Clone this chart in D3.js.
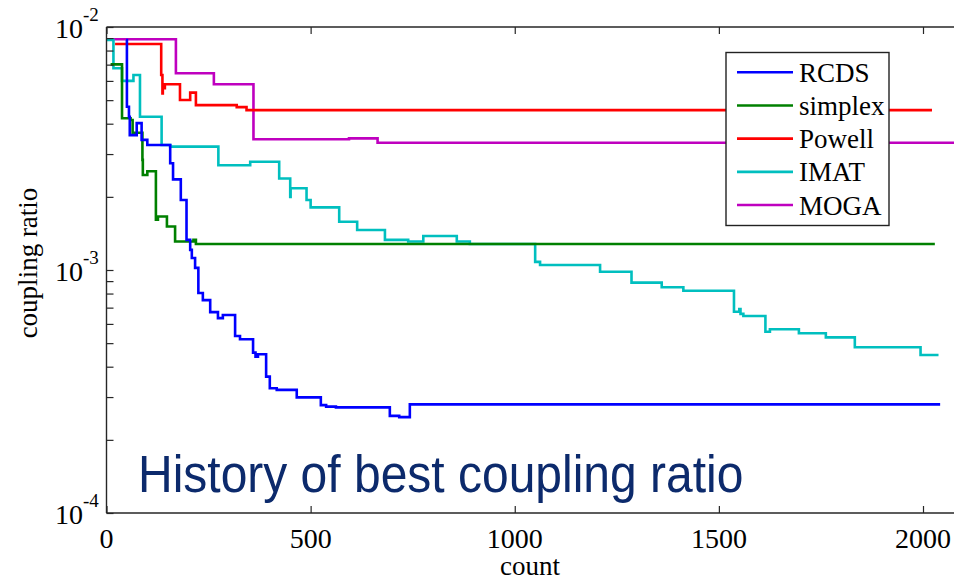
<!DOCTYPE html>
<html>
<head>
<meta charset="utf-8">
<script src="https://cdn.jsdelivr.net/npm/d3@7/dist/d3.min.js"></script>
<style>
  html, body { margin: 0; padding: 0; background: #fff; }
  svg { display: block; }
</style>
</head>
<body>
<svg id="chart" width="954" height="582"></svg>
<script>
// ---------- data ----------
const seriesNames = ["RCDS", "simplex", "Powell", "IMAT", "MOGA"];
const seriesColors = ["#0000ff", "#008000", "#ff0000", "#00bfbf", "#bf00bf"];

const rcdsCount = [48, 50, 55, 57, 74, 86, 100, 156, 163, 182, 196, 205, 209, 217, 225, 236, 254, 273, 285, 315, 327, 359, 365, 371, 391, 400, 417, 466, 525, 538, 562, 694, 717, 743, 2042];
const rcdsValue = [8.84e-3, 4.7e-3, 4.27e-3, 3.59e-3, 4.02e-3, 3.43e-3, 3.27e-3, 2.75e-3, 2.36e-3, 1.94e-3, 1.33e-3, 1.21e-3, 1.12e-3, 1.02e-3, 8.04e-4, 7.52e-4, 6.71e-4, 6.34e-4, 6.53e-4, 5.35e-4, 5.19e-4, 4.57e-4, 4.40e-4, 4.50e-4, 3.64e-4, 3.26e-4, 3.21e-4, 2.99e-4, 2.78e-4, 2.74e-4, 2.72e-4, 2.51e-4, 2.48e-4, 2.80e-4, 2.80e-4];

const simplexCount = [10, 38, 59, 64, 88, 89, 100, 121, 126, 148, 168, 213, 219, 2029];
const simplexValue = [7.02e-3, 4.21e-3, 4.14e-3, 3.67e-3, 2.84e-3, 2.46e-3, 2.55e-3, 1.61e-3, 1.66e-3, 1.51e-3, 1.31e-3, 1.33e-3, 1.28e-3, 1.28e-3];

const powellCount = [21, 134, 137, 138, 143, 180, 205, 219, 319, 343, 2022];
const powellValue = [8.51e-3, 6.35e-3, 5.33e-3, 5.6e-3, 5.81e-3, 5.01e-3, 5.37e-3, 4.77e-3, 4.68e-3, 4.55e-3, 4.55e-3];

const imatCount = [0, 17, 38, 66, 82, 135, 156, 274, 352, 423, 450, 451, 490, 500, 570, 614, 682, 739, 776, 858, 890, 1050, 1062, 1209, 1286, 1360, 1413, 1537, 1550, 1553, 1560, 1614, 1625, 1696, 1762, 1833, 1994, 2038];
const imatValue = [8.84e-3, 6.76e-3, 6.0e-3, 6.35e-3, 4.27e-3, 3.27e-3, 3.22e-3, 2.70e-3, 2.79e-3, 2.38e-3, 2.0e-3, 2.17e-3, 1.94e-3, 1.81e-3, 1.58e-3, 1.46e-3, 1.33e-3, 1.31e-3, 1.38e-3, 1.31e-3, 1.28e-3, 1.08e-3, 1.048e-3, 9.84e-4, 8.87e-4, 8.49e-4, 8.22e-4, 6.73e-4, 6.9e-4, 6.6e-4, 6.47e-4, 5.57e-4, 5.70e-4, 5.49e-4, 5.28e-4, 4.81e-4, 4.47e-4, 4.47e-4];

const mogaCount = [0, 170, 263, 360, 594, 664, 2100];
const mogaValue = [8.9e-3, 6.45e-3, 5.81e-3, 3.45e-3, 3.48e-3, 3.34e-3, 3.34e-3];

const xTicks = [0, 500, 1000, 1500, 2000];
const yTicks = [1e-4, 1e-3, 1e-2];
const yTickExps = ["-4", "-3", "-2"];
const xDomain = [0, 2100];
const yDomain = [1e-4, 1e-2];
const xLabel = "count";
const yLabel = "coupling ratio";
const annotation = "History of best coupling ratio";

// ---------- layout ----------
(function () {
const svg = d3.select("#chart");
const mLeft = 106.5, mTop = 27, mBottom = 513;
const pxPerUnit = (923 - mLeft) / 2000;
const mRight = mLeft + (xDomain[1] - xDomain[0]) * pxPerUnit;

const x = d3.scaleLinear().domain(xDomain).range([mLeft, mRight]);
const y = d3.scaleLog().domain(yDomain).range([mBottom, mTop]);

const serif = "'Liberation Serif', 'Times New Roman', serif";

const allSeries = [
  {count: rcdsCount, value: rcdsValue},
  {count: simplexCount, value: simplexValue},
  {count: powellCount, value: powellValue},
  {count: imatCount, value: imatValue},
  {count: mogaCount, value: mogaValue}
];

const line = d3.line()
  .x(d => x(d[0]))
  .y(d => y(d[1]))
  .curve(d3.curveStepAfter);

const drawOrder = [4, 2, 3, 1, 0];
drawOrder.forEach(i => {
  const s = allSeries[i];
  const pts = s.count.map((c, k) => [c, s.value[k]]);
  svg.append("path")
    .attr("d", line(pts))
    .attr("fill", "none")
    .attr("stroke", seriesColors[i])
    .attr("stroke-width", 2.6)
    .attr("stroke-linejoin", "miter");
});

// axes frame
const axisColor = "#262626";
const frame = [[mLeft, mTop, mLeft, mBottom], [mLeft, mBottom, mRight, mBottom], [mLeft, mTop, mRight, mTop], [mRight, mTop, mRight, mBottom]];
frame.forEach(f => svg.append("line").attr("x1", f[0]).attr("y1", f[1]).attr("x2", f[2]).attr("y2", f[3])
  .attr("stroke", axisColor).attr("stroke-width", 1.4));

// x ticks (inward, bottom and top)
const gxb = svg.append("g").attr("transform", `translate(0,${mBottom})`)
  .call(d3.axisBottom(x).tickValues(xTicks).tickSizeInner(-7).tickSizeOuter(0).tickFormat(""));
gxb.select(".domain").remove();
gxb.selectAll(".tick line").attr("stroke", axisColor).attr("stroke-width", 1.2);
const gxt = svg.append("g").attr("transform", `translate(0,${mTop})`)
  .call(d3.axisTop(x).tickValues(xTicks).tickSizeInner(-7).tickSizeOuter(0).tickFormat(""));
gxt.select(".domain").remove();
gxt.selectAll(".tick line").attr("stroke", axisColor).attr("stroke-width", 1.2);

// x tick labels
svg.append("g").selectAll("text").data(xTicks).join("text")
  .attr("x", d => x(d)).attr("y", 548)
  .attr("text-anchor", "middle")
  .attr("font-family", serif).attr("font-size", 28).attr("fill", "#000")
  .text(d => d);

// y ticks: minor + major inward
const yAllTicks = y.ticks();
const gy = svg.append("g").attr("transform", `translate(${mLeft},0)`)
  .call(d3.axisLeft(y).tickValues(yAllTicks).tickSizeInner(-7).tickSizeOuter(0).tickFormat(""));
gy.select(".domain").remove();
gy.selectAll(".tick line").attr("stroke", axisColor).attr("stroke-width", 1.2);
const gyr = svg.append("g").attr("transform", `translate(${mRight},0)`)
  .call(d3.axisRight(y).tickValues(yAllTicks).tickSizeInner(-7).tickSizeOuter(0).tickFormat(""));
gyr.select(".domain").remove();
gyr.selectAll(".tick line").attr("stroke", axisColor).attr("stroke-width", 1.2);

// y tick labels 10^n
const yl = svg.append("g").selectAll("text").data(yTicks).join("text")
  .attr("x", 55).attr("y", d => y(d) + 11)
  .attr("font-family", serif).attr("font-size", 28).attr("fill", "#000");
yl.append("tspan").text("10");
yl.append("tspan").attr("font-size", 19).attr("dy", -17).text((d, i) => yTickExps[i]);

// axis labels
svg.append("text").attr("x", 530).attr("y", 575).attr("text-anchor", "middle")
  .attr("font-family", serif).attr("font-size", 27).attr("fill", "#000").text(xLabel);
svg.append("text").attr("transform", "translate(37,263) rotate(-90)").attr("text-anchor", "middle")
  .attr("font-family", serif).attr("font-size", 27).attr("fill", "#000").text(yLabel);

// annotation
svg.append("text").attr("transform", "translate(138,492) scale(1,1.08)")
  .attr("font-family", "'Liberation Sans', Arial, sans-serif").attr("font-size", 48)
  .attr("fill", "#0c2a6c").text(annotation);

// legend
const lg = svg.append("g");
lg.append("rect").attr("x", 726).attr("y", 52.5).attr("width", 163).attr("height", 173)
  .attr("fill", "#fff").attr("stroke", "#222").attr("stroke-width", 1.4);
const rowY = d3.scalePoint().domain(seriesNames).range([72.3, 205]);
seriesNames.forEach((n, i) => {
  lg.append("line").attr("x1", 737).attr("x2", 793).attr("y1", rowY(n)).attr("y2", rowY(n))
    .attr("stroke", seriesColors[i]).attr("stroke-width", 2.6);
  lg.append("text").attr("x", 799).attr("y", rowY(n) + 9.5)
    .attr("font-family", serif).attr("font-size", 27).attr("fill", "#000").text(n);
});
})();
</script>
</body>
</html>
